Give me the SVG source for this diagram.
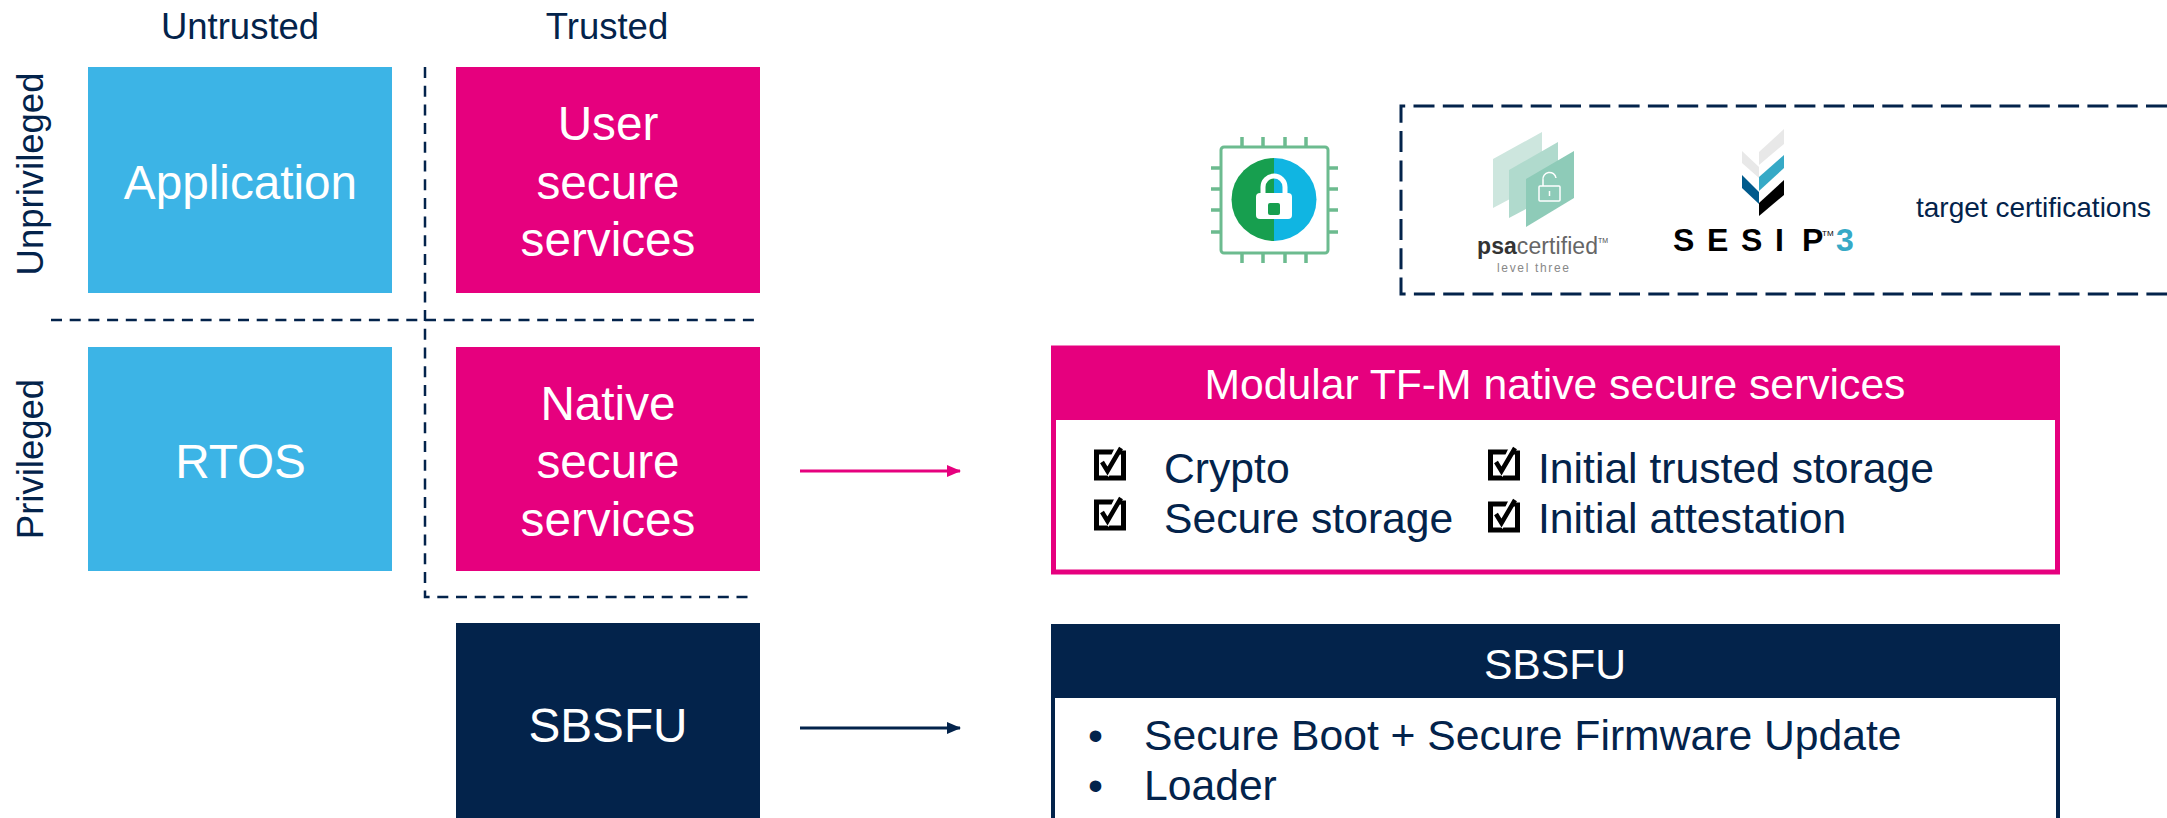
<svg xmlns="http://www.w3.org/2000/svg" width="2167" height="818" viewBox="0 0 2167 818">
<defs>
<style>
text{font-family:"Liberation Sans",Arial,sans-serif}
.w{fill:#fff;font-size:47.700px;text-anchor:middle}
.h{fill:#03234b;font-size:36.500px;text-anchor:middle}
.b{fill:#03234b;font-size:42.670px}
.t{fill:#fff;font-size:42.670px;text-anchor:middle}
.d{fill:none;stroke:#03234b;stroke-width:2.500;stroke-dasharray:11 7.700}
.pin{stroke:#6cbb8f;stroke-width:3.500;fill:none}
.sesip{font-size:32px;font-weight:bold;fill:#000}
</style>
<marker id="ap" markerWidth="14" markerHeight="12" refX="13" refY="6" orient="auto" markerUnits="userSpaceOnUse" viewBox="0 0 14 12"><path d="M0 0L14 6L0 12z" fill="#e6007e"/></marker>
<marker id="an" markerWidth="14" markerHeight="12" refX="13" refY="6" orient="auto" markerUnits="userSpaceOnUse" viewBox="0 0 14 12"><path d="M0 0L14 6L0 12z" fill="#03234b"/></marker>
<g id="chk"><rect x="2.500" y="5" width="27" height="26" fill="none" stroke="#000" stroke-width="5"/><path d="M8 14L14 23L25 0L33 0" fill="none" stroke="#fff" stroke-width="7"/><path d="M8 15L13.500 24L27 1" fill="none" stroke="#000" stroke-width="4.500"/></g>
</defs>
<rect width="2167" height="818" fill="#fff"/>

<g id="col-untrusted"><text class="h" x="240" y="39">Untrusted</text></g>
<g id="col-trusted"><text class="h" x="607" y="39">Trusted</text></g>
<g id="row-unprivileged"><text class="h" transform="translate(43 174) rotate(-90)">Unprivileged</text></g>
<g id="row-privileged"><text class="h" transform="translate(43 459) rotate(-90)">Privileged</text></g>

<g id="application"><rect x="88" y="67" width="304" height="226" fill="#3cb4e6"/><text class="w" x="240.500" y="199">Application</text></g>
<g id="rtos"><rect x="88" y="347" width="304" height="224" fill="#3cb4e6"/><text class="w" x="240.500" y="478">RTOS</text></g>
<g id="user-secure"><rect x="456" y="67" width="304" height="226" fill="#e6007e"/><text class="w" x="608" y="140">User</text><text class="w" x="608" y="199">secure</text><text class="w" x="608" y="256">services</text></g>
<g id="native-secure"><rect x="456" y="347" width="304" height="224" fill="#e6007e"/><text class="w" x="608" y="420">Native</text><text class="w" x="608" y="478">secure</text><text class="w" x="608" y="536">services</text></g>
<g id="sbsfu"><rect x="456" y="623" width="304" height="195" fill="#03234b"/><text class="w" x="608" y="742">SBSFU</text></g>

<g id="connectors">
<path class="d" d="M425 67V597H755"/>
<path class="d" d="M51 320H755"/>
<path d="M800 471H960" stroke="#e6007e" stroke-width="3" marker-end="url(#ap)"/>
<path d="M800 728H960" stroke="#03234b" stroke-width="3" marker-end="url(#an)"/>
</g>

<g id="chip">
<rect x="1221" y="147" width="107" height="106" rx="3" fill="#fff" stroke="#6cbb8f" stroke-width="3"/>
<path class="pin" d="M1242 137V147M1263 137V147M1285 137V147M1306 137V147M1242 253V263M1263 253V263M1285 253V263M1306 253V263M1211 168H1221M1211 189H1221M1211 210H1221M1211 232H1221M1328 168H1338M1328 189H1338M1328 210H1338M1328 232H1338"/>
<path d="M1274 158A42 41 0 0 0 1274 241Z" fill="#179f4f"/>
<path d="M1274 158A42 41 0 0 1 1274 241Z" fill="#10b5e2"/>
<rect x="1256" y="193" width="36" height="26" rx="4" fill="#fff"/>
<path d="M1263 194V187A11 11 0 0 1 1285 187V194" fill="none" stroke="#fff" stroke-width="5"/>
<rect x="1268" y="203" width="12" height="12" rx="2" fill="#179f4f"/>
</g>

<g id="target-box">
<path d="M2167 106H1401V294H2167" fill="none" stroke="#03234b" stroke-width="3" stroke-dasharray="21 8.300"/>
<text x="1916" y="217" fill="#03234b" font-size="28">target certifications</text>
</g>

<g id="psa-logo">
<path d="M1493 159L1542 132V182L1493 208Z" fill="#cde6de"/>
<path d="M1509 170L1558 142V192L1509 218Z" fill="#b0dacd"/>
<path d="M1526 179L1574 151V198L1526 227Z" fill="#8ecbb8"/>
<rect x="1539" y="186" width="21" height="15" rx="1" fill="none" stroke="#fff" stroke-width="1.500"/>
<path d="M1543 186V180A6.500 6.500 0 0 1 1556 178" fill="none" stroke="#fff" stroke-width="1.500"/>
<path d="M1549.500 191V196" stroke="#fff" stroke-width="1.500"/>
<text x="1477" y="254" font-size="23" fill="#666" textLength="121"><tspan fill="#333" font-weight="bold">psa</tspan>certified</text>
<text x="1598" y="243" font-size="7" fill="#4d4d4d">TM</text>
<text x="1497" y="272" font-size="12" fill="#888" textLength="72">level three</text>
</g>

<g id="sesip-logo">
<path d="M1784 129V144L1759 165V152Z" fill="#e8e8e8"/>
<path d="M1742 151L1759 167V178L1742 163Z" fill="#e8e8e8"/>
<path d="M1784 155V168L1759 191V177Z" fill="#36a9c6"/>
<path d="M1742 175L1759 192V204L1742 188Z" fill="#005a8c"/>
<path d="M1784 180V195L1759 216V203Z" fill="#000"/>
<text class="sesip" x="1673" y="251">S</text>
<text class="sesip" x="1707" y="251">E</text>
<text class="sesip" x="1741" y="251">S</text>
<text class="sesip" x="1775" y="251">I</text>
<text class="sesip" x="1802" y="251">P</text>
<text x="1822" y="236" font-size="8" fill="#000">TM</text>
<text x="1836" y="251" font-size="32" font-weight="bold" fill="#36a9c6">3</text>
</g>

<g id="tfm-panel">
<rect x="1053.500" y="348" width="1004" height="224" fill="#fff" stroke="#e6007e" stroke-width="5"/>
<rect x="1051" y="346" width="1009" height="74" fill="#e6007e"/>
<text class="t" x="1555" y="399">Modular TF-M native secure services</text>
<use href="#chk" x="1094" y="447"/><use href="#chk" x="1094" y="497"/><use href="#chk" x="1488" y="447"/><use href="#chk" x="1488" y="499"/>
<text class="b" x="1164" y="483">Crypto</text>
<text class="b" x="1164" y="533">Secure storage</text>
<text class="b" x="1538" y="483">Initial trusted storage</text>
<text class="b" x="1538" y="533">Initial attestation</text>
</g>

<g id="sbsfu-panel">
<path d="M1053 698V818M2058 698V818" stroke="#03234b" stroke-width="4" fill="none"/>
<rect x="1051" y="624" width="1009" height="74" fill="#03234b"/>
<text class="t" x="1555" y="679">SBSFU</text>
<text class="b" x="1088" y="750">•</text><text class="b" x="1144" y="750">Secure Boot + Secure Firmware Update</text>
<text class="b" x="1088" y="800">•</text><text class="b" x="1144" y="800">Loader</text>
</g>
</svg>
